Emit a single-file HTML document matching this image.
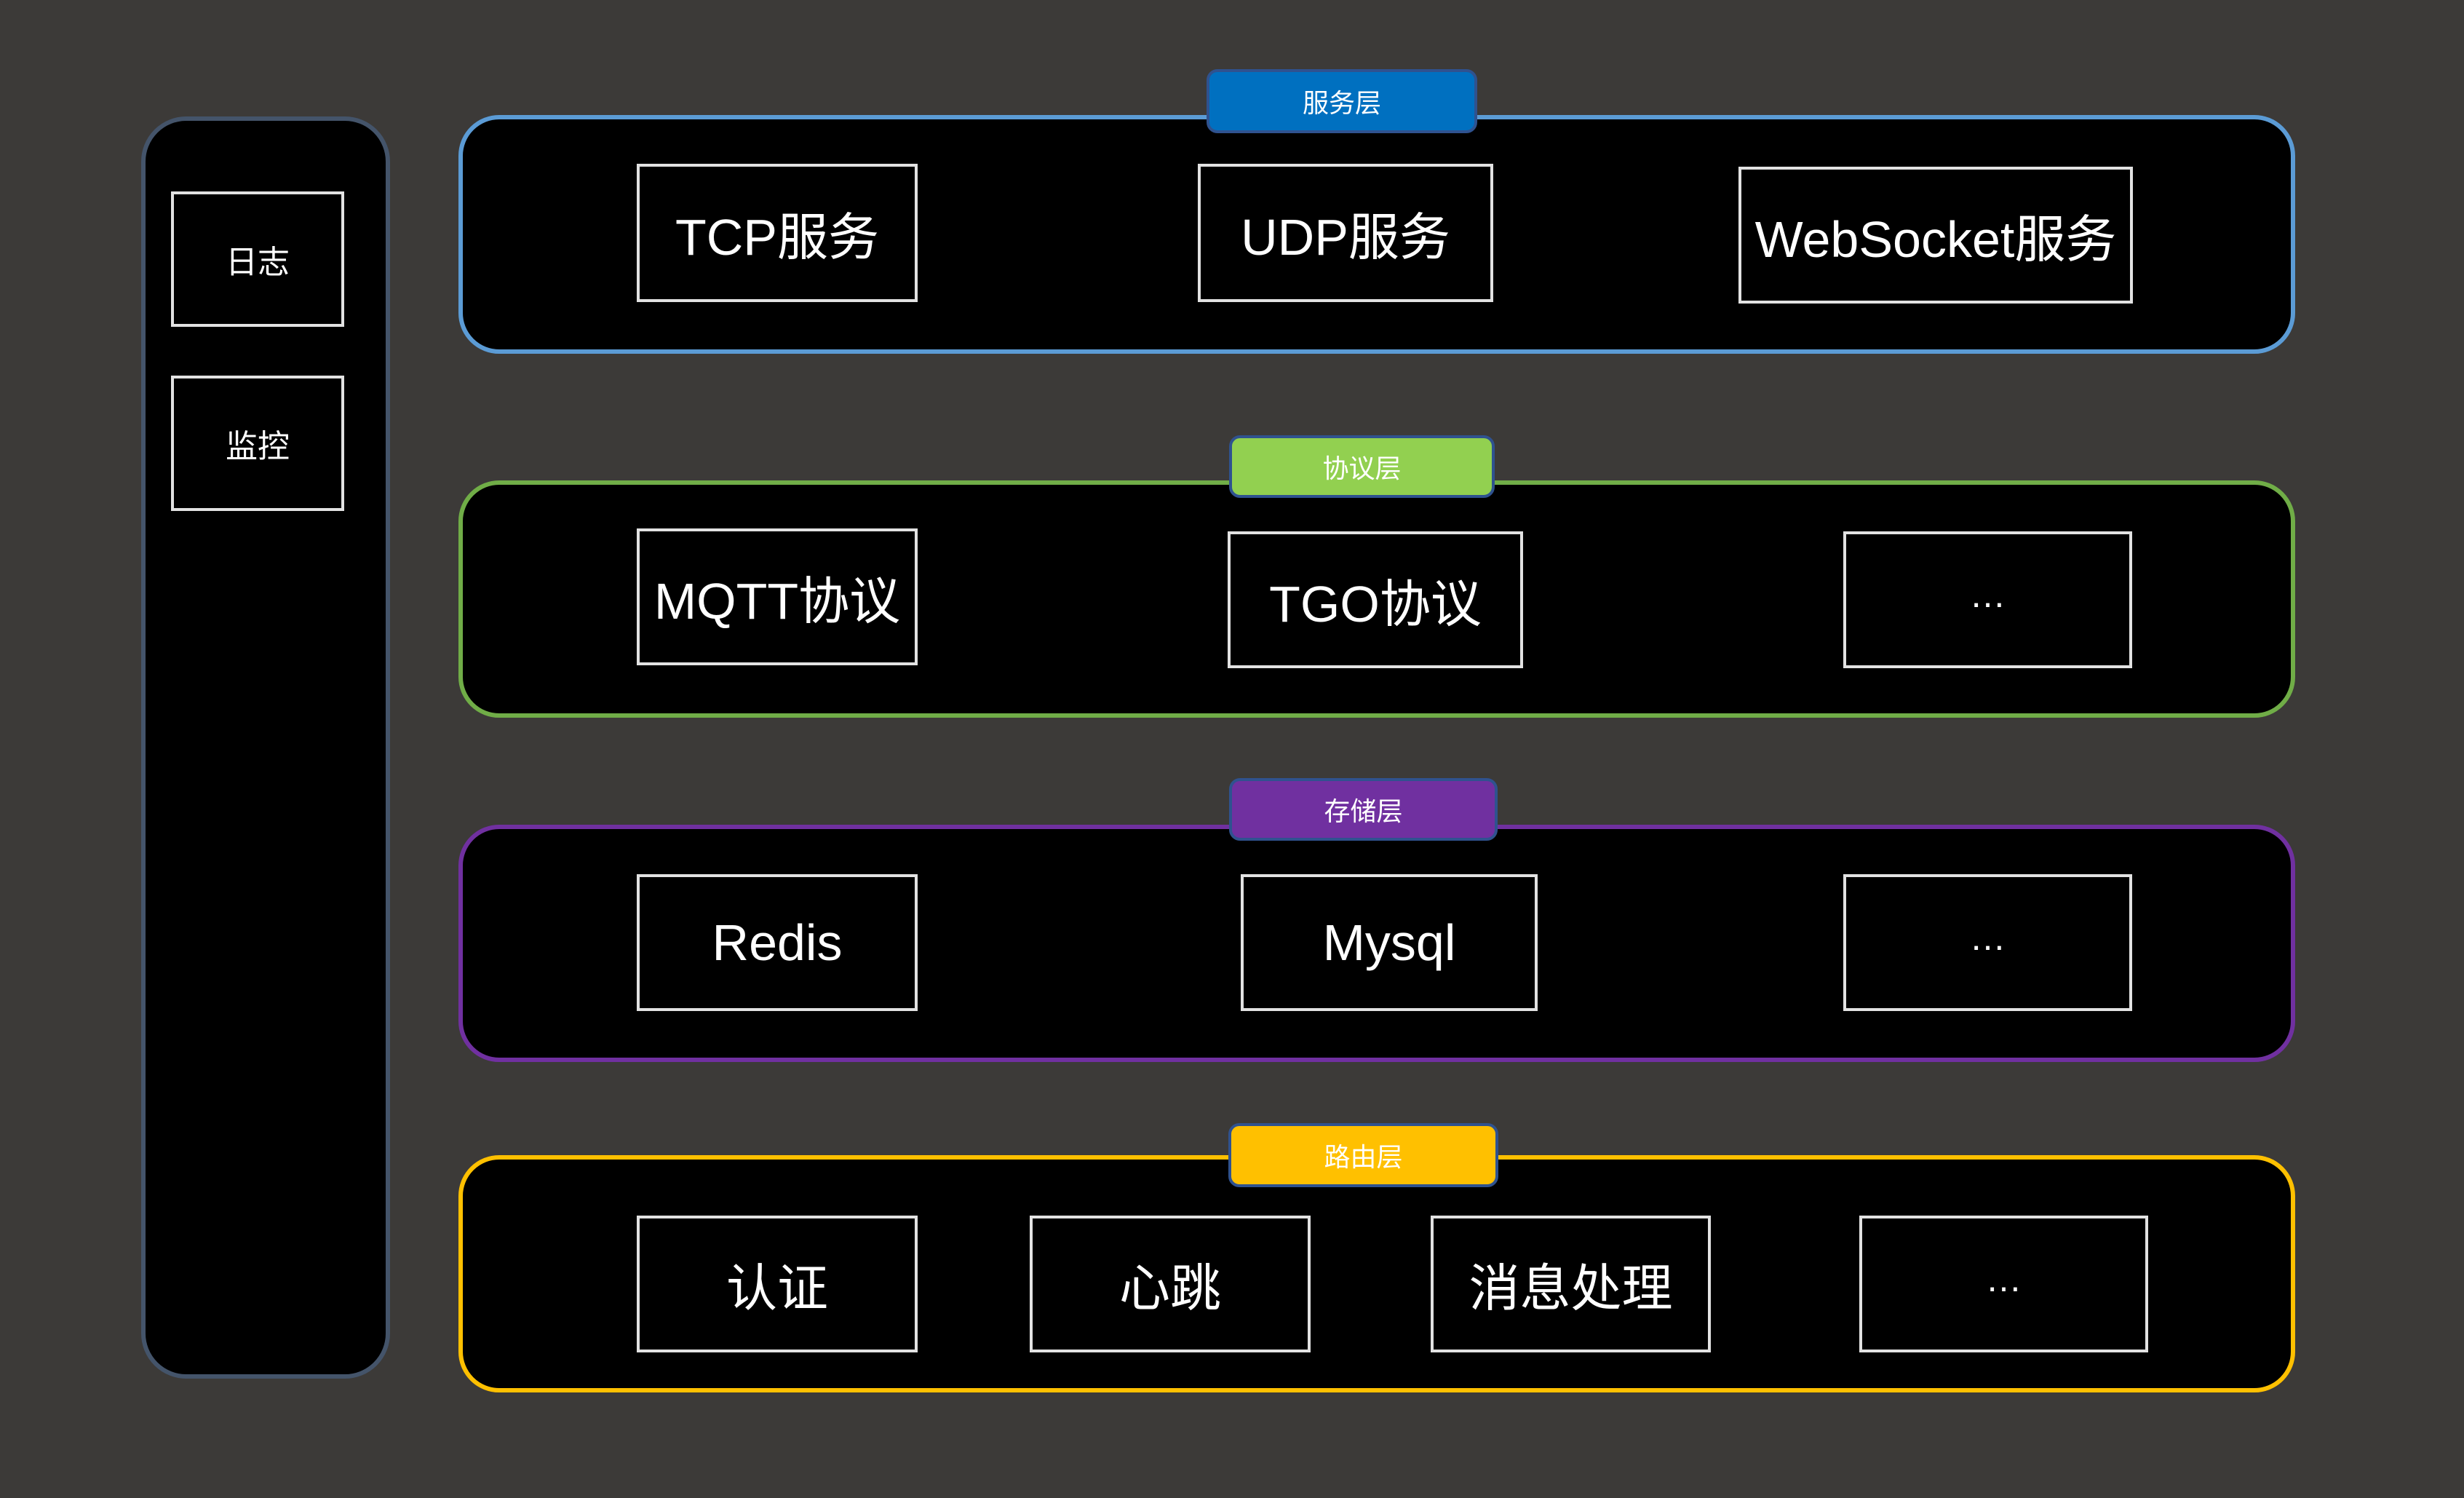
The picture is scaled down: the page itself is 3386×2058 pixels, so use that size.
<!DOCTYPE html>
<html><head><meta charset="utf-8"><style>
*{margin:0;padding:0;box-sizing:border-box}
body{width:3386px;height:2058px;background:#3c3a38;position:relative;overflow:hidden;font-family:"Liberation Sans","Noto Sans CJK SC",sans-serif}
.panel{position:absolute;background:#000;border:6px solid;border-radius:56px}
.box{position:absolute;border:4px solid #e2e2e2;background:#000;color:#fff;display:flex;align-items:center;justify-content:center;font-size:70px;white-space:nowrap}
.sbox{font-size:44px}
.dots{font-size:50px;padding-bottom:14px}
.lbl{position:absolute;border:4px solid #2f528f;border-radius:15px;color:#fff;font-size:36px;display:flex;align-items:center;justify-content:center}
</style></head><body>
<div class="panel" style="left:194px;top:160px;width:342px;height:1734px;border-color:#44546a;border-radius:62px"></div>
<div class="box sbox" style="left:235px;top:263px;width:238px;height:186px">日志</div>
<div class="box sbox" style="left:235px;top:516px;width:238px;height:186px">监控</div>

<div class="panel" style="left:630px;top:158px;width:2524px;height:328px;border-color:#5b9bd5"></div>
<div class="lbl" style="left:1658px;top:95px;width:372px;height:88px;background:#0070c0">服务层</div>
<div class="box" style="left:875px;top:225px;width:386px;height:190px">TCP服务</div>
<div class="box" style="left:1646px;top:225px;width:406px;height:190px">UDP服务</div>
<div class="box" style="left:2389px;top:229px;width:542px;height:188px">WebSocket服务</div>

<div class="panel" style="left:630px;top:660px;width:2524px;height:326px;border-color:#70ad47"></div>
<div class="lbl" style="left:1689px;top:598px;width:365px;height:86px;background:#92d050">协议层</div>
<div class="box" style="left:875px;top:726px;width:386px;height:188px">MQTT协议</div>
<div class="box" style="left:1687px;top:730px;width:406px;height:188px">TGO协议</div>
<div class="box dots" style="left:2533px;top:730px;width:397px;height:188px">…</div>

<div class="panel" style="left:630px;top:1133px;width:2524px;height:326px;border-color:#7030a0"></div>
<div class="lbl" style="left:1689px;top:1069px;width:369px;height:86px;background:#7030a0">存储层</div>
<div class="box" style="left:875px;top:1201px;width:386px;height:188px">Redis</div>
<div class="box" style="left:1705px;top:1201px;width:408px;height:188px">Mysql</div>
<div class="box dots" style="left:2533px;top:1201px;width:397px;height:188px">…</div>

<div class="panel" style="left:630px;top:1587px;width:2524px;height:326px;border-color:#ffc000"></div>
<div class="lbl" style="left:1688px;top:1543px;width:371px;height:88px;background:#ffc000">路由层</div>
<div class="box" style="left:875px;top:1670px;width:386px;height:188px">认证</div>
<div class="box" style="left:1415px;top:1670px;width:386px;height:188px">心跳</div>
<div class="box" style="left:1966px;top:1670px;width:385px;height:188px">消息处理</div>
<div class="box dots" style="left:2555px;top:1670px;width:397px;height:188px">…</div>
</body></html>
